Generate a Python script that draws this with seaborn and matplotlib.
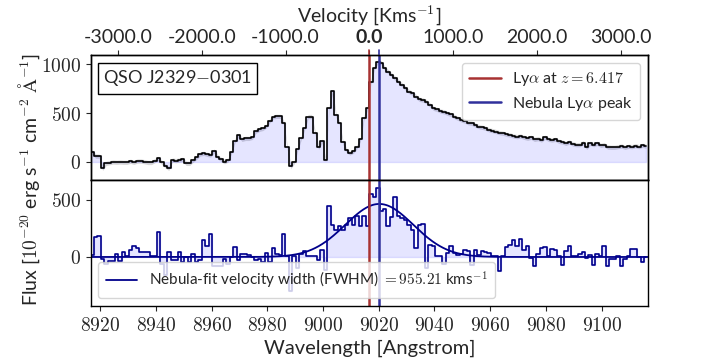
import numpy as np
import matplotlib
matplotlib.use("Agg")
import matplotlib.pyplot as plt
import seaborn as sns

# ---------------- data ----------------
wave_start = 8915.9          # first pixel centre [Angstrom]
wave_step = 1.25             # MUSE sampling [Angstrom]
lya_obs = 9016.63            # Lya at z = 6.417
neb_peak = 9020.2            # nebula Lya peak
fit_amp = 465.0
fwhm_kms = 955.21
c_kms = 299792.458

qso_flux = [0,
    105, 60, 60, -65, -14, -7, 0, -3, 0, -3,
    -3, 7, -3, 10, 10, 3, -5, -5, 14, 37,
    -5, -40, -65, 20, 14, 20, 27, -14, -14, 20,
    48, 82, 88, 78, 71, 112, 54, 27, 3, 20,
    105, 218, 275, 231, 241, 241, 252, 316, 333, 343,
    367, 422, 462, 466, 466, 400, 150, -46, 0, 135,
    245, 350, 464, 464, 300, 150, 214, 22, 551, 720,
    480, 400, 200, 120, 92, 110, 155, 230, 447, 550,
    815, 965, 1024, 1014, 956, 922, 888, 854, 820, 786,
    752, 718, 701, 667, 639, 633, 616, 582, 548, 537,
    520, 513, 497, 486, 463, 446, 429, 418, 401, 395,
    378, 361, 354, 344, 327, 320, 310, 299, 293, 282,
    276, 265, 259, 265, 252, 242, 252, 231, 238, 225,
    252, 231, 225, 231, 211, 204, 191, 204, 184, 177,
    177, 197, 150, 191, 177, 191, 170, 177, 153, 150,
    150, 157, 163, 150, 160, 157, 167, 157, 170, 163]
qso_err = 22.0

neb_flux = [-190,
    20, 175, 180, -15, -65, -35, -35, 25, -35, 40,
    5, 60, 100, 75, 45, 40, 40, 5, 5, 215,
    -60, -160, 40, -25, -25, 40, -40, 0, -45, 25,
    -45, -30, 150, 100, 200, -80, -80, -80, -20, -60,
    0, 85, -30, 25, 25, 18, -3, -30, -18, -45,
    35, -45, 76, 30, 20, 200, 6, -300, 6, -96,
    29, 50, 6, 6, 6, -23, 64, -110, 444, 283,
    240, 268, 240, 283, 342, 283, 356, 268, 356, 268,
    550, 525, 608, 400, 420, 269, 350, 526, 356, 342,
    327, 283, 239, 79, 283, 289, -96, 108, 93, 6,
    6, -58, 35, 99, 35, 15, 30, 58, 50, -67,
    64, 20, 50, 40, 35, 5, 5, -125, 5, 88,
    108, 152, 93, 158, 64, 93, -9, -76, 29, 79,
    88, 12, 70, 64, 12, -67, 50, 93, 6, 12,
    29, 41, -9, 20, -67, 29, 6, 99, -82, -18,
    -18, 6, -76, -18, 6, 70, 70, 0, -47, 0]

vel_ticks = [-3000, -2000, -1000, 0, 1000, 2000, 3000]
wave_ticks = [8920, 8940, 8960, 8980, 9000, 9020, 9040, 9060, 9080, 9100]

# ---------------- figure ----------------
sns.set_style("ticks")
plt.rcParams["font.family"] = ["Lato", "DejaVu Sans"]
plt.rcParams["mathtext.fontset"] = "cm"
plt.rcParams["xtick.direction"] = "out"
plt.rcParams["ytick.direction"] = "out"

wave = wave_start + wave_step * np.arange(len(qso_flux))
qso = np.array(qso_flux, float)
neb = np.array(neb_flux, float)
xmin, xmax = lya_obs - 100.0, lya_obs + 100.0

fig = plt.figure(figsize=(7.2, 3.6), dpi=100)
ax1 = fig.add_axes([0.126, 0.5, 0.774, 0.347])
ax2 = fig.add_axes([0.126, 0.15, 0.774, 0.35], sharex=ax1)

red = "#a83232"
blue = "#30309c"

# top panel
ax1.fill_between(wave, qso - qso_err, qso + qso_err, color="gray", alpha=0.3, lw=0)
ax1.fill_between(wave, 0, qso, step="mid", color="blue", alpha=0.1)
sns.lineplot(x=wave, y=qso, drawstyle="steps-mid", color="black", lw=1.2, ax=ax1)
ax1.axvline(lya_obs, color=red, lw=1.8, label=r"Ly$\alpha$ at $z=6.417$")
ax1.axvline(neb_peak, color=blue, lw=1.8, label=r"Nebula Ly$\alpha$ peak")
ax1.set_ylim(-184, 1092)
ax1.set_yticks([0, 500, 1000])
ax1.set_yticklabels([r"$0$", r"$500$", r"$1000$"], fontsize=14)
ax1.tick_params(axis="x", bottom=False, labelbottom=False)
ax1.legend(loc="upper right", fontsize=11.5, handlelength=2.0, borderpad=0.45,
           labelspacing=0.4, handletextpad=0.7)
ax1.text(0.022, 0.895, r"QSO J2329$-$0301", transform=ax1.transAxes, fontsize=13,
         va="top", ha="left",
         bbox=dict(facecolor="white", edgecolor="black", boxstyle="square,pad=0.3"))
ax1.set_xlabel("")
ax1.set_ylabel("")

# bottom panel
sigma = fwhm_kms / c_kms * neb_peak / 2.3548
xfit = np.linspace(xmin, xmax, 800)
yfit = fit_amp * np.exp(-0.5 * ((xfit - neb_peak) / sigma) ** 2)
ax2.fill_between(wave, 0, neb, step="mid", color="blue", alpha=0.1)
sns.lineplot(x=wave, y=neb, drawstyle="steps-mid", color="darkblue", lw=1.2, ax=ax2)
sns.lineplot(x=xfit, y=yfit, color="darkblue", lw=1.3, ax=ax2,
             label=r"Nebula-fit velocity width (FWHM) $=955.21$ kms$^{-1}$")
ax2.axvline(lya_obs, color=red, lw=1.8)
ax2.axvline(neb_peak, color=blue, lw=1.8)
ax2.set_ylim(-430, 675)
ax2.set_yticks([0, 500])
ax2.set_yticklabels([r"$0$", r"$500$"], fontsize=14)
ax2.set_xlim(xmin, xmax)
ax2.set_xticks(wave_ticks)
ax2.set_xticklabels([r"$%d$" % w for w in wave_ticks], fontsize=14)
ax2.legend(loc="lower left", fontsize=11, handlelength=2.0, borderpad=0.5)
ax2.set_xlabel("Wavelength [Angstrom]", fontsize=14.5)
ax2.set_ylabel("")

fig.text(0.04, 0.5, r"Flux [$10^{-20}$ erg s$^{-1}$ cm$^{-2}$ $\mathrm{\AA}^{-1}$]",
         rotation=90, va="center", ha="center", fontsize=14)

# top velocity axis
axv = ax1.twiny()
vmin = c_kms * (xmin / lya_obs - 1.0)
vmax = c_kms * (xmax / lya_obs - 1.0)
axv.set_xlim(vmin, vmax)
axv.set_xticks(vel_ticks)
labs = axv.set_xticklabels(["%.1f" % v for v in vel_ticks], fontsize=14)
for t, v in zip(labs, vel_ticks):
    if v == 0:
        t.set_fontweight("bold")
axv.tick_params(axis="x", pad=3)
axv.set_xlabel(r"Velocity [Kms$^{-1}$]", fontsize=14, labelpad=5)
v_neb = c_kms * (neb_peak / lya_obs - 1.0)
for vv, col in [(0.0, red), (v_neb, blue)]:
    axv.plot([vv, vv], [1.0, 1.04], transform=axv.get_xaxis_transform(),
             color=col, lw=1.2, clip_on=False)

for ax in (ax1, ax2, axv):
    for s in ax.spines.values():
        s.set_linewidth(1.0)
        s.set_color("black")

fig.savefig("out.png", dpi=100)
